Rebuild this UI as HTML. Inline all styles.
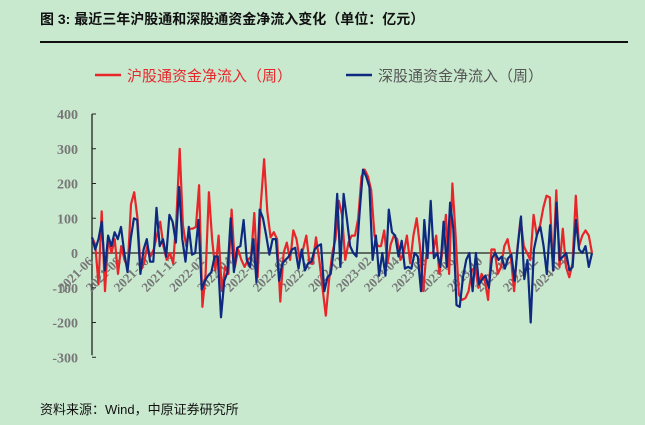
<!DOCTYPE html>
<html><head><meta charset="utf-8"><style>
body{margin:0;width:645px;height:420px;background:#c9e9cf;overflow:hidden;font-family:"Liberation Serif","Noto Serif CJK SC",serif}
</style></head><body>
<svg width="645" height="420" xmlns="http://www.w3.org/2000/svg">
<text x="40" y="24" font-size="14" font-weight="bold" fill="#111" font-family="Liberation Sans, Noto Sans CJK SC, sans-serif">图 3:  最近三年沪股通和深股通资金净流入变化（单位：亿元）</text>
<line x1="40" y1="42" x2="628" y2="42" stroke="#111" stroke-width="2"/>
<g>
<line x1="95" y1="75" x2="121" y2="75" stroke="#e8262a" stroke-width="2.5"/>
<text x="127" y="81" font-size="15" fill="#e8262a" font-family="Liberation Sans, Noto Sans CJK SC, sans-serif">沪股通资金净流入（周）</text>
<line x1="346" y1="75" x2="372" y2="75" stroke="#0e2a80" stroke-width="2.5"/>
<text x="378" y="81" font-size="15" fill="#555" font-family="Liberation Sans, Noto Sans CJK SC, sans-serif">深股通资金净流入（周）</text>
</g>
<g id="axes"></g>
<g id="series"></g>
<text x="40" y="414" font-size="13" fill="#111" font-family="Liberation Sans, Noto Sans CJK SC, sans-serif">资料来源：Wind，中原证券研究所</text>
</svg>
<script>
const yTicks=[400,300,200,100,0,-100,-200,-300];
const xLabels=["2021-06","2021-08","2021-10","2021-12","2022-02","2022-04","2022-06","2022-08","2022-10","2022-12","2023-02","2023-04","2023-06","2023-08","2023-10","2023-12","2024-02","2024-04"];
const shFlow=[45,25,-90,120,-110,40,0,40,-60,20,-20,-40,140,175,100,-50,-30,20,-10,10,50,90,20,-20,0,-30,100,300,80,20,70,70,75,195,-155,-60,175,40,-50,50,-110,-40,-60,125,-40,10,-20,-40,-20,-10,115,-70,140,270,120,45,60,40,-140,0,30,-20,65,40,-20,10,50,-30,-30,45,-20,-100,-180,-80,0,40,150,110,-20,30,50,50,100,220,240,220,180,50,20,20,65,-30,25,50,40,-20,0,50,-30,50,100,20,-110,0,0,0,50,-60,10,110,-60,200,50,-120,-135,-130,-110,-50,-40,-100,-60,-80,-135,10,10,-60,-40,20,40,-10,-110,10,100,20,0,-20,110,50,80,130,165,160,-50,180,-40,70,-40,-70,-30,165,20,50,65,50,0];
const szFlow=[45,10,40,90,-50,50,20,60,40,75,0,-55,40,100,95,-60,10,40,-25,-25,130,20,40,-10,110,90,30,190,40,-25,75,-5,0,95,-105,-80,-65,-55,-10,-10,-185,-80,-55,100,-55,15,20,95,-20,-40,40,-85,125,100,50,-5,40,40,-80,-30,-20,-10,10,15,-45,10,-50,-30,-25,10,20,25,-110,-70,-60,10,170,-40,170,100,20,0,-10,120,240,220,190,-20,50,-65,0,-65,125,60,50,-10,35,-45,-40,-45,0,-10,-110,95,-15,150,-15,0,-40,90,-40,145,70,-150,-155,-70,-20,0,-110,0,-90,-75,-65,-100,-15,0,-20,-10,-45,-15,-5,-80,20,105,-75,-20,-200,10,55,75,20,-60,80,-50,145,-20,-10,0,-50,-40,95,10,0,20,-40,0];
const NS="http://www.w3.org/2000/svg";
const X0=92,X1=592;
function yS(v){return 253-v*0.3475;}
function xS(i,n){return X0+(X1-X0)*i/(n-1);}
const ax=document.getElementById('axes');
function mk(t,a,p){const e=document.createElementNS(NS,t);for(const k in a)e.setAttribute(k,a[k]);p.appendChild(e);return e;}
const yl=mk('line',{x1:X0,y1:yS(400),x2:X0,y2:yS(-300)-2,stroke:'#222','stroke-width':1.3},ax);


yTicks.forEach(v=>{
 const t=mk('line',{x1:X0,x2:X0+4,y1:yS(v),y2:yS(v),stroke:'#222'},ax);
 
 
 const l=mk('text',{x:78,y:yS(v)+5,'text-anchor':'end','font-size':14,'font-weight':'bold',fill:'#777'},ax);
 l.textContent=v;
 
 
});
const xl=mk('line',{x1:X0,y1:yS(0),x2:X1,y2:yS(0),stroke:'#222','stroke-width':1.3},ax);


const step=27.8;
xLabels.forEach((s,i)=>{
 const x=X0+i*step+2,y=yS(0)+9;
 const l=mk('text',{x:x,y:y,'text-anchor':'end','font-size':13,'font-weight':'bold',fill:'#777',transform:`rotate(-45 ${x} ${y})`},ax);
 l.textContent=s;
 
 
});
const sg=document.getElementById('series');
function line(d,c,name){
 const pts=d.map((v,i)=>xS(i,d.length).toFixed(1)+','+yS(v).toFixed(1)).join(' ');
 const p=mk('polyline',{points:pts,fill:'none',stroke:c,'stroke-width':2.2,'stroke-linejoin':'round'},sg);
 
 
}
line(shFlow,'#e8262a','sh-connect-line');
line(szFlow,'#0e2a80','sz-connect-line');
</script>
</body></html>
